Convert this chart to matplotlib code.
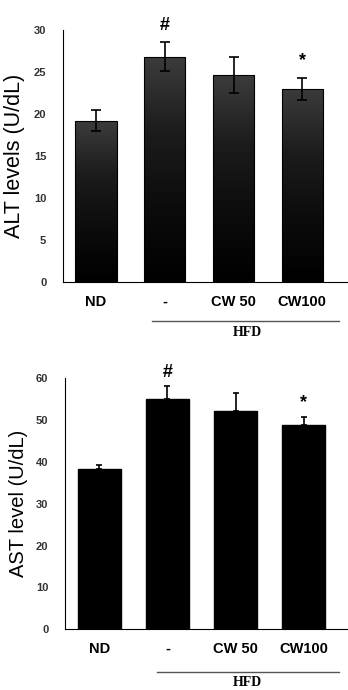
import matplotlib
matplotlib.use("Agg")
import matplotlib.pyplot as plt
import numpy as np
from matplotlib.colors import LinearSegmentedColormap

groups = ["ND", "-", "CW 50", "CW100"]

alt_values = [19.2, 26.8, 24.6, 23.0]
alt_errors = [1.2, 1.7, 2.1, 1.3]
alt_marks = ["", "#", "", "*"]

ast_values = [38.2, 55.0, 52.2, 48.7]
ast_errors = [1.1, 3.0, 4.2, 2.1]
ast_marks = ["", "#", "", "*"]

plt.rcParams["font.family"] = ["Liberation Sans", "DejaVu Sans"]

fig = plt.figure(figsize=(3.48, 6.90), dpi=100)
ax1 = fig.add_axes([0.181, 0.591, 0.816, 0.366])
ax2 = fig.add_axes([0.187, 0.088, 0.810, 0.364])

grad = LinearSegmentedColormap.from_list("g", ["#000000", "#0c0c0c", "#1c1c1c", "#3c3c3c"])


def style_axes(ax, ymax, step, ylabel, ysize):
    x = np.arange(len(groups))
    ax.set_ylim(0, ymax)
    ax.set_yticks(np.arange(0, ymax + 1, step))
    ax.set_xticks(x)
    ax.set_xticklabels(groups, fontsize=10.5, fontweight="bold")
    ax.tick_params(axis="y", length=0, pad=12, labelsize=8, labelcolor="#333333")
    ax.tick_params(axis="x", length=0, pad=9)
    for lab in ax.get_yticklabels():
        lab.set_fontweight("bold")
    ax.spines["top"].set_visible(False)
    ax.spines["right"].set_visible(False)
    ax.set_ylabel(ylabel, fontsize=ysize, labelpad=6)


# ALT panel: gradient bars, two-sided error bars
x = np.arange(len(groups))
bars = ax1.bar(x, alt_values, width=0.6, color="none", edgecolor="black", linewidth=0.8, zorder=3)
for b in bars:
    x0, w, h = b.get_x(), b.get_width(), b.get_height()
    img = ax1.imshow(np.linspace(0, 1, 256).reshape(-1, 1), cmap=grad, aspect="auto",
                     extent=[x0, x0 + w, 0, h], origin="lower", zorder=2)
    img.set_clip_path(b)
ax1.errorbar(x, alt_values, yerr=alt_errors, fmt="none", ecolor="black",
             elinewidth=1.2, capsize=3.6, capthick=1.2, zorder=4)
ax1.set_xlim(-0.48, 3.65)
style_axes(ax1, 30, 5, "ALT levels (U/dL)", 15.5)
for xi, v, e, m in zip(x, alt_values, alt_errors, alt_marks):
    if m:
        ax1.annotate(m, (xi, v + e), xytext=(0, 6), textcoords="offset points",
                     ha="center", va="bottom", fontsize=13, fontweight="bold")

# AST panel: solid black bars, upper error bars only
ax2.bar(x, ast_values, width=0.63, color="black", edgecolor="black", zorder=3)
ax2.errorbar(x, ast_values, yerr=[np.zeros(len(x)), ast_errors], fmt="none", ecolor="black",
             elinewidth=1.2, capsize=2.5, capthick=1.2, zorder=2)
ax2.set_xlim(-0.5, 3.63)
style_axes(ax2, 60, 10, "AST level (U/dL)", 14.5)
for xi, v, e, m in zip(x, ast_values, ast_errors, ast_marks):
    if m:
        ax2.annotate(m, (xi, v + e), xytext=(0, 4), textcoords="offset points",
                     ha="center", va="bottom", fontsize=13, fontweight="bold")

# HFD group bracket under the last three bars
for x_start, y_line, y_text in [(152, 321, 333), (157, 672, 683)]:
    fig.add_artist(plt.Line2D([x_start / 348, 0.975], [1 - y_line / 690] * 2,
                              color="#555555", linewidth=1.0))
    fig.text(0.71, 1 - y_text / 690, "HFD", ha="center", va="center",
             fontsize=10, fontweight="bold", family="Liberation Serif")

fig.savefig("out.png", dpi=100)
